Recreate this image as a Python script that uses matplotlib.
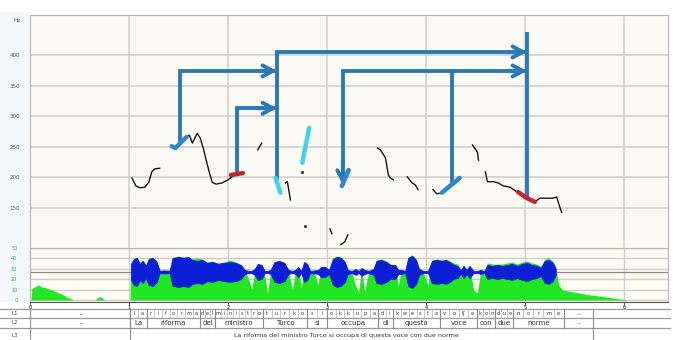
import numpy as np
import matplotlib.pyplot as plt
from matplotlib.patches import Rectangle

W, H = 673, 340

# ---------------- pitch contour pieces (s, Hz) ----------------
contour_t = [
    [1.03, 1.07, 1.11, 1.16, 1.20, 1.23, 1.26, 1.31],
    [1.58, 1.61, 1.64, 1.67, 1.69, 1.72, 1.75, 1.78, 1.81, 1.84, 1.88, 1.94, 2.00, 2.05],
    [2.30, 2.34],
    [2.58, 2.60, 2.63],
    [3.03, 3.05],
    [3.14, 3.18, 3.21],
    [3.51, 3.54, 3.59, 3.62, 3.64, 3.67],
    [3.81, 3.86, 3.89, 3.92],
    [4.07, 4.11, 4.16],
    [4.47, 4.52, 4.53],
    [4.60, 4.62, 4.68, 4.73, 4.78, 4.85, 4.92, 4.93],
    [5.10, 5.15, 5.22, 5.28, 5.32, 5.35, 5.37],
]
contour_hz = [
    [199, 186, 183, 184, 192, 209, 214, 215],
    [266, 269, 256, 266, 272, 264, 248, 228, 209, 192, 189, 191, 196, 202],
    [245, 256],
    [191, 193, 163],
    [116, 108],
    [90, 95, 106],
    [248, 245, 232, 204, 199, 196],
    [201, 191, 188, 180],
    [180, 173, 175],
    [253, 241, 228],
    [209, 193, 193, 191, 186, 184, 176, 176],
    [160, 166, 166, 166, 168, 152, 143],
]
dots_t = [2.75, 2.78]
dots_hz = [209, 121]

# highlighted stretches
blue_hl_t = [[1.43, 1.47, 1.53, 1.58], [3.15, 3.22], [4.16, 4.34]]
blue_hl_hz = [[251, 248, 258, 266], [186, 212], [175, 199]]
red_hl_t = [[2.03, 2.15], [4.93, 5.02, 5.10]]
red_hl_hz = [[204, 207], [176, 166, 160]]
cyan_hl_t = [[2.48, 2.53], [2.82, 2.75]]
cyan_hl_hz = [[199, 175], [281, 224]]

# hand drawn links: start time, foot (Hz), level (Hz), end time
link_start = [1.515, 2.09, 2.495, 3.16]
link_foot = [253, 207, 196, 188]
link_level = [374, 313, 405, 374]
link_end = [2.495, 2.495, 5.02, 5.02]
branch_t, branch_foot = 4.265, 189
target_t, target_lo, target_hi = 5.02, 168, 438

# ---------------- intensity (s, dB) ----------------
noise_t = [0.00, 0.01, 0.02, 0.05, 0.08, 0.12, 0.17, 0.22, 0.27, 0.32, 0.37, 0.42, 0.45,
           0.66, 0.69, 0.72, 0.75, 1.01]
noise_db = [0, 0, 11.5, 12.5, 14.4, 12.5, 11.5, 9.6, 7.7, 5.8, 2.9, 1.0, 0,
            0, 2.9, 2.9, 0, 0]
speech_t = [1.02, 1.05, 1.08, 1.11, 1.14, 1.17, 1.20, 1.24, 1.28, 1.31, 1.36, 1.41,
            1.44, 1.50, 1.55, 1.60, 1.64, 1.69, 1.74, 1.79, 1.84, 1.90, 1.96, 2.02,
            2.08, 2.13, 2.17, 2.21, 2.24, 2.27, 2.30, 2.34, 2.37, 2.40, 2.43, 2.47,
            2.52, 2.57, 2.61, 2.65, 2.68, 2.71, 2.74, 2.77, 2.80, 2.83, 2.87, 2.91,
            2.94, 2.98, 3.02, 3.06, 3.10, 3.14, 3.18, 3.21, 3.25, 3.29, 3.32, 3.35,
            3.38, 3.42, 3.47, 3.50, 3.55, 3.60, 3.64, 3.69, 3.72, 3.75, 3.79, 3.82,
            3.86, 3.90, 3.93, 3.97, 4.02, 4.06, 4.11, 4.16, 4.20, 4.24, 4.28, 4.32,
            4.35, 4.38, 4.41, 4.44, 4.48, 4.52, 4.55, 4.59, 4.62, 4.67, 4.72, 4.77,
            4.82, 4.87, 4.92, 4.97, 5.02, 5.07, 5.12, 5.16, 5.20, 5.24, 5.28, 5.31]
speech_amp = [7.7, 12.5, 13.5, 7.7, 10.6, 5.8, 12.5, 13.5, 9.6, 1.0, 1.4, 1.0,
              13.5, 14.4, 13.5, 14.4, 11.5, 10.6, 11.5, 8.7, 9.6, 7.7, 8.7, 9.6,
              8.7, 6.7, 1.9, 1.0, 1.0, 2.9, 7.7, 6.7, 1.0, 1.0, 1.9, 9.6,
              10.6, 8.7, 1.9, 1.0, 1.9, 4.8, 1.0, 9.6, 7.7, 1.0, 1.4, 1.9,
              4.8, 4.8, 1.9, 12.5, 14.4, 13.5, 9.6, 1.9, 1.0, 2.9, 1.0, 3.8,
              1.9, 1.0, 2.9, 10.6, 11.5, 9.6, 6.7, 6.7, 1.9, 1.9, 1.0, 13.5,
              15.4, 11.5, 2.9, 1.0, 1.0, 10.6, 11.5, 10.6, 11.5, 9.6, 6.7, 5.8,
              1.9, 5.8, 1.9, 5.8, 1.0, 1.0, 1.9, 1.0, 6.7, 5.8, 6.7, 5.8,
              6.7, 7.7, 5.8, 7.7, 8.7, 6.7, 5.8, 3.8, 10.6, 11.5, 8.7, 2.9]
speech_green = [36.5, 39.4, 40.4, 36.5, 38.5, 33.7, 40.4, 40.4, 37.5, 28.8, 28.8, 28.8,
                40.4, 42.3, 41.3, 41.3, 39.4, 40.4, 39.4, 36.5, 37.5, 35.6, 36.5, 38.5,
                36.5, 33.7, 28.8, 19.2, 10.6, 26.9, 34.6, 33.7, 24.0, 6.7, 26.9, 36.5,
                37.5, 35.6, 28.8, 9.6, 26.9, 32.7, 11.5, 36.5, 34.6, 26.9, 26.9, 14.4,
                31.7, 32.7, 28.8, 40.4, 42.3, 41.3, 37.5, 28.8, 26.9, 13.5, 7.7, 30.8,
                7.7, 26.9, 28.8, 38.5, 39.4, 37.5, 34.6, 33.7, 13.5, 28.8, 26.9, 41.3,
                43.3, 39.4, 30.8, 26.9, 14.4, 38.5, 39.4, 38.5, 39.4, 37.5, 35.6, 34.6,
                28.8, 32.7, 28.8, 32.7, 9.6, 6.7, 26.9, 26.9, 35.6, 34.6, 34.6, 34.6,
                35.6, 36.5, 34.6, 36.5, 37.5, 35.6, 34.6, 32.7, 39.4, 40.4, 37.5, 32.7]
tail_t = [5.34, 5.38, 5.49, 5.66, 5.83, 5.96, 6.06]
tail_db = [14.4, 9.6, 7.7, 4.8, 2.9, 1.0, 0]
wave_center = 27

# ---------------- annotation tiers ----------------
word_bounds = [1.01, 1.18, 1.72, 1.87, 2.35, 2.80, 3.00, 3.52, 3.67, 4.14, 4.52, 4.70, 4.88, 5.39]
words = ['La', 'riforma', 'del', 'ministro', 'Turco', 'si', 'occupa', 'di',
         'questa', 'voce', 'con', 'due', 'norme']
phones = [['l', 'a'], ['r', 'i', 'f', 'o', 'r', 'm', 'a'], ['d', 'e', 'l'],
          ['m', 'i', 'n', 'i', 's', 't', 'r', 'o'], ['t', 'u', 'r', 'k', 'o'], ['s', 'i'],
          ['o', 'k', 'k', 'u', 'p', 'a'], ['d', 'i'], ['k', 'w', 'e', 's', 't', 'a'],
          ['v', 'o', 'tʃ', 'e'], ['k', 'o', 'n'], ['d', 'u', 'e'], ['n', 'o', 'r', 'm', 'e']]
pause_cells = [(0.0, 1.01), (5.39, 5.69)]
sentence = 'La riforma del ministro Turco si occupa di questa voce con due norme'
tier_names = ['L1', 'L2', 'L3']

pitch_ticks = [150, 200, 250, 300, 350, 400]
db_ticks = [0, 10, 20, 30, 40, 50]
time_ticks = [0, 1, 2, 3, 4, 5, 6]

ARROW = '#2a7ab8'
GRID = '#cdcdcd'

fig = plt.figure(figsize=(6.73, 3.40), dpi=100)
fig.patch.set_facecolor('white')
fig.patches.append(Rectangle((0, 1 - 302 / H), 30 / W, 290 / H, transform=fig.transFigure,
                             facecolor='#f3f6fa', edgecolor='none', zorder=-5))

# ---- pitch panel ----
ax = fig.add_axes([30 / W, 1 - 248 / H, 638 / W, 233 / H])
ax.set_facecolor('#fcfaf5')
ax.set_xlim(0, 638 / 99)
ax.set_ylim(84.6, 465.4)
ax.set_xticks(time_ticks[1:])
ax.set_yticks(pitch_ticks)
ax.grid(True, color=GRID, lw=1.1)
ax.set_axisbelow(True)
ax.tick_params(axis='x', length=0, labelbottom=False)
ax.tick_params(axis='y', length=0, labelsize=4, labelcolor='#555555', pad=7)
for s in ax.spines.values():
    s.set_color('#b5b5b5')
ax.spines['bottom'].set_visible(False)
fig.text(17 / W, 1 - 20 / H, 'Hz', fontsize=4, color='#555555', ha='center', va='center')

for tt, hh in zip(contour_t, contour_hz):
    ax.plot(tt, hh, color='#151515', lw=1.0, zorder=4)
ax.plot(dots_t, dots_hz, ls='none', marker='o', ms=1.2, color='#333333', zorder=4)

# links
for s0, foot, lev, e in zip(link_start, link_foot, link_level, link_end):
    ax.plot([s0, s0, e], [foot, lev, lev], color=ARROW, lw=2.8,
            solid_joinstyle='miter', solid_capstyle='butt', zorder=3)
    ax.annotate('', xy=(e, lev), xytext=(e - 0.2, lev),
                arrowprops=dict(arrowstyle='->,head_length=0.75,head_width=0.4',
                                color=ARROW, lw=2.8, shrinkA=0, shrinkB=0,
                                mutation_scale=10), zorder=3)
ax.plot([branch_t, branch_t], [branch_foot, link_level[3]], color=ARROW, lw=2.8, zorder=3)
ax.plot([target_t, target_t], [target_lo, target_hi], color=ARROW, lw=2.8,
        solid_capstyle='butt', zorder=3)
ax.annotate('', xy=(link_start[3], link_foot[3]), xytext=(link_start[3], link_foot[3] + 40),
            arrowprops=dict(arrowstyle='->,head_length=0.75,head_width=0.4',
                            color=ARROW, lw=2.8, shrinkA=0, shrinkB=0,
                            mutation_scale=10), zorder=3)

for tt, hh in zip(blue_hl_t, blue_hl_hz):
    ax.plot(tt, hh, color='#2f86cf', lw=3.2, solid_capstyle='round', zorder=5)
for tt, hh in zip(red_hl_t, red_hl_hz):
    ax.plot(tt, hh, color='#c0262c', lw=3.2, solid_capstyle='round', zorder=5)
for tt, hh in zip(cyan_hl_t, cyan_hl_hz):
    ax.plot(tt, hh, color='#3fd3e6', lw=3.2, solid_capstyle='round', zorder=5)

# ---- intensity panel ----
ai = fig.add_axes([30 / W, 1 - 302 / H, 638 / W, 54 / H])
ai.set_facecolor('#fdfcf3')
ai.set_xlim(0, 638 / 99)
ai.set_ylim(-1.9, 50)
ai.set_yticks(db_ticks)
ai.set_xticks(time_ticks)
ai.set_xticklabels([str(v) for v in time_ticks])
ai.grid(True, color=GRID, lw=1.0)
ai.set_axisbelow(True)
ai.tick_params(axis='y', length=0, labelsize=3.6, labelcolor='#3cae3c', pad=9)
ai.tick_params(axis='x', length=2, width=0.6, labelsize=3.5, pad=0.5, color='#444444')
for s in ai.spines.values():
    s.set_color('#b5b5b5')
ai.spines['bottom'].set_color('#555555')

green_t = noise_t + speech_t + tail_t
green_db = noise_db + speech_green + tail_db
ai.fill_between(green_t, 0, green_db, color='#22e622', lw=0, zorder=2)
ai.axhline(wave_center, color='#8c8c8c', lw=0.9, zorder=2.5)
amp = np.array(speech_amp)
ai.fill_between(speech_t, wave_center - amp, wave_center + amp, color='#0c1fd6', lw=0.6,
                edgecolor='#0c1fd6', zorder=3)

# ---- tiers ----
at = fig.add_axes([0, 0, 670 / W, 32 / H])
at.set_xlim(-30 / 99, 640 / 99)
at.set_ylim(32, 0)
at.axis('off')
row_lines = [1, 10, 20]
row_mid = [5.5, 15, 27.5]
for y in row_lines:
    at.plot([-30 / 99, 640 / 99], [y, y], color='#9a9a9a', lw=0.9, clip_on=False)
at.plot([0, 0], [1, 32], color='#9a9a9a', lw=0.9)
for b in word_bounds:
    at.plot([b, b], [1, 20], color='#8a8a8a', lw=0.8)
for a, b in pause_cells:
    at.plot([b, b], [1, 32], color='#8a8a8a', lw=0.8)
    for r in range(2):
        at.text((a + b) / 2, row_mid[r] - 1, '_', fontsize=4, ha='center', va='center', color='#444444')
for i, w in enumerate(words):
    a, b = word_bounds[i], word_bounds[i + 1]
    at.text((a + b) / 2, row_mid[1], w, fontsize=5, ha='center', va='center', color='#333333')
    ph = phones[i]
    step = (b - a) / len(ph)
    for j, p in enumerate(ph):
        at.text(a + step * (j + 0.5), row_mid[0], p, fontsize=3.6, ha='center', va='center',
                color='#333333')
        if j:
            at.plot([a + step * j] * 2, [1.5, 9.5], color='#b0b0b0', lw=0.5)
at.text((word_bounds[0] + word_bounds[-1]) / 2, row_mid[2], sentence, fontsize=4.6,
        ha='center', va='center', color='#333333')
for k, name in enumerate(tier_names):
    at.text(-15 / 99, row_mid[k], name, fontsize=4, ha='center', va='center', color='#444444')

fig.savefig('out.png', dpi=100)
